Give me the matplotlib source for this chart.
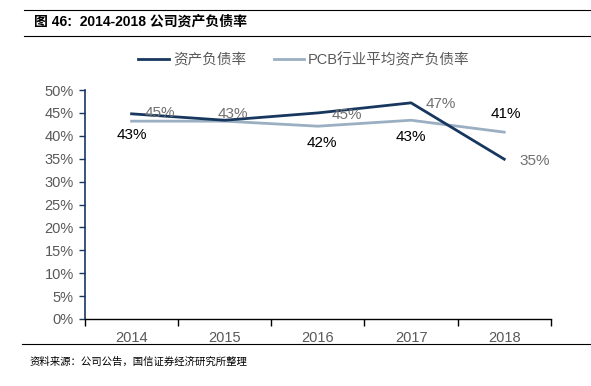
import numpy as np
import matplotlib.pyplot as plt
from matplotlib.lines import Line2D

plt.rcParams['font.family'] = ['Liberation Sans', 'Noto Sans CJK SC']

# --- data ---
years = ['2014', '2015', '2016', '2017', '2018']
company = [44.8, 43.4, 45.0, 47.2, 34.9]
industry = [43.2, 43.2, 42.1, 43.4, 40.8]
company_labels = ['45%', '43%', '45%', '47%', '35%']
industry_labels = ['43%', None, '42%', '43%', '41%']

dark = '#17375E'
light = '#9BAFC2'
grey_txt = '#595959'

fig = plt.figure(figsize=(5.91, 3.86), dpi=100)
ax = fig.add_axes([0.1438, 0.1736, 0.932 - 0.1438, 0.7668 - 0.1736])

x = np.arange(len(years))
ax.plot(x, industry, color=light, lw=2, zorder=2)
ax.plot(x, company, color=dark, lw=2, zorder=3)

# label offsets in pixels (dpi 100 -> points = px*0.72)
c_off = [(28, 1), (8, 6), (29, -2), (30, -1), (30, -2)]
i_off = [(0, -14), None, (4, -17), (0, -17), (2, 18)]
for i in range(len(years)):
    dx, dy = c_off[i]
    ax.annotate(company_labels[i], (x[i], company[i]), xytext=(dx * 0.72, dy * 0.72),
                textcoords='offset points', ha='center', va='center',
                fontsize=11, color='#707070', zorder=5)
    if industry_labels[i]:
        dx, dy = i_off[i]
        ax.annotate(industry_labels[i], (x[i], industry[i]), xytext=(dx * 0.72, dy * 0.72),
                    textcoords='offset points', ha='center', va='center',
                    fontsize=11, color='black', zorder=5)

ax.set_xlim(-0.5, len(years) - 0.5)
ax.set_ylim(0, 50)
ax.set_yticks(np.arange(0, 51, 5))
ax.set_yticklabels([f'{v}%' for v in range(0, 51, 5)])
ax.set_xticks(np.arange(-0.5, len(years), 1.0))
ax.set_xticklabels([])
ax.set_xticks(x, minor=True)
ax.set_xticklabels(years, minor=True)
ax.tick_params(axis='x', which='minor', length=0, pad=9, labelsize=10.5, labelcolor=grey_txt)
ax.tick_params(axis='x', which='major', length=5, width=1, color='black', direction='out')
ax.tick_params(axis='y', length=4, width=1, color=dark, labelsize=10.5, labelcolor=grey_txt, pad=4)

for s in ['top', 'right']:
    ax.spines[s].set_visible(False)
ax.spines['left'].set_color(dark)
ax.spines['left'].set_linewidth(1.2)
ax.spines['bottom'].set_color('black')
ax.spines['bottom'].set_linewidth(1)

handles = [Line2D([], [], color=dark, lw=2), Line2D([], [], color=light, lw=2)]
fig.legend(handles, ['资产负债率', 'PCB行业平均资产负债率'], loc='center',
           bbox_to_anchor=(304 / 591, 1 - 60 / 386), ncol=2, frameon=False,
           fontsize=10.5, labelcolor=grey_txt, handlelength=2.1, columnspacing=1.9,
           handletextpad=0.25)

# header / footer
fig.add_artist(Line2D([24 / 591, 1], [1 - 10 / 386] * 2, color='black', lw=0.8))
fig.add_artist(Line2D([24 / 591, 1], [1 - 36 / 386] * 2, color='black', lw=0.8))
fig.text(34 / 591, 1 - 22 / 386, '图 46:  2014-2018 公司资产负债率', fontsize=10,
         fontweight='bold', va='center', ha='left')
fig.add_artist(Line2D([22 / 591, 1], [1 - 344 / 386] * 2, color='black', lw=0.8))
fig.text(30 / 591, 1 - 362 / 386, '资料来源：公司公告，国信证券经济研究所整理', fontsize=7.5,
         va='center', ha='left')

fig.savefig('out.png', dpi=100)
